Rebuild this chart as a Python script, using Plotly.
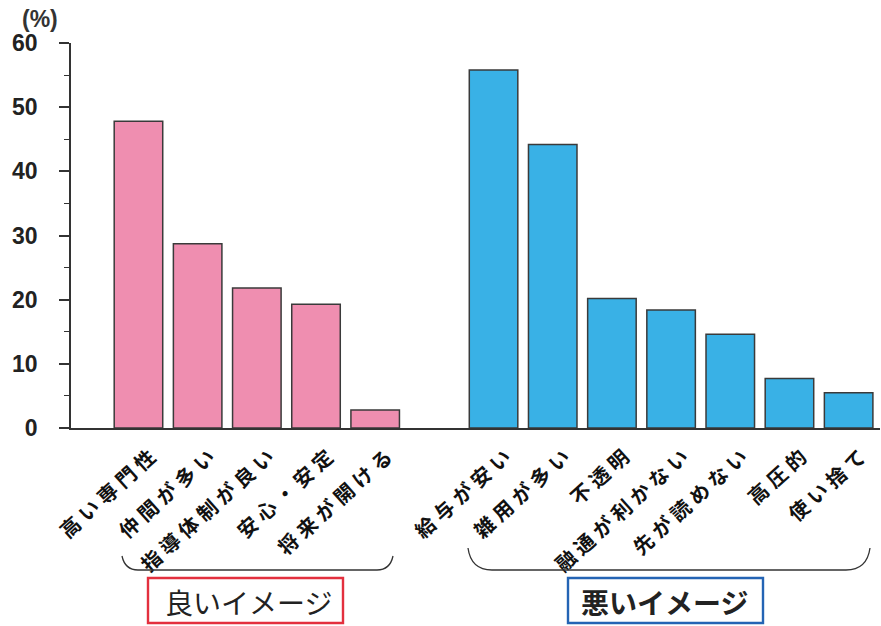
import plotly.graph_objects as go

# Survey: image of the job (% of respondents)
good_labels = ["高い専門性", "仲間が多い", "指導体制が良い", "安心・安定", "将来が開ける"]
good_values = [47.8, 28.7, 21.8, 19.3, 2.8]

bad_labels = ["給与が安い", "雑用が多い", "不透明", "融通が利かない", "先が読めない", "高圧的", "使い捨て"]
bad_values = [55.8, 44.2, 20.2, 18.4, 14.6, 7.7, 5.5]

y_ticks = [0, 10, 20, 30, 40, 50, 60]

GAP = " "  # empty slot between the two groups
categories = good_labels + [GAP] + bad_labels

# widen the character pitch of the slanted category labels
SPACER = "\u2005"
tick_text = [SPACER.join(c) if c != GAP else "" for c in categories]

W, H = 881, 626
ML, MR, MT, MB = 71, 1, 43, 198
PW, PH = W - ML - MR, H - MT - MB


def px(x):
    return (x - ML) / PW


def py(y):
    return (H - MB - y) / PH


fig = go.Figure()
fig.add_trace(go.Bar(
    x=good_labels, y=good_values, width=0.82,
    marker=dict(color="#EF8EB0", line=dict(color="#3a3a3a", width=1.5)),
))
fig.add_trace(go.Bar(
    x=bad_labels, y=bad_values, width=0.82,
    marker=dict(color="#39B1E6", line=dict(color="#3a3a3a", width=1.5)),
))

# curly group brackets under the tick labels
shapes = []
for x0, x1, ytop, ybot, r in [(122, 393, 556, 570, 16), (468, 870, 548, 570, 24)]:
    path = (
        f"M {px(x0)},{py(ytop)} "
        f"Q {px(x0 + 3)},{py(ybot)} {px(x0 + r)},{py(ybot)} "
        f"L {px(x1 - r)},{py(ybot)} "
        f"Q {px(x1 - 3)},{py(ybot)} {px(x1)},{py(ytop)}"
    )
    shapes.append(dict(type="path", xref="paper", yref="paper", path=path,
                       line=dict(color="#333333", width=1.3)))

# framed group captions
for x0, x1, col in [(148, 343, "#E3303E"), (568, 763, "#2464B4")]:
    shapes.append(dict(type="rect", xref="paper", yref="paper",
                       x0=px(x0), x1=px(x1), y0=py(623), y1=py(578),
                       line=dict(color=col, width=2.4), fillcolor="rgba(0,0,0,0)"))

annotations = [
    dict(text="良いイメージ", x=px(248), y=py(602), xref="paper", yref="paper",
         xanchor="center", yanchor="middle", showarrow=False,
         font=dict(family="Noto Sans CJK JP", size=28, color="#222222")),
    dict(text="悪いイメージ", x=px(664), y=py(602), xref="paper", yref="paper",
         xanchor="center", yanchor="middle", showarrow=False,
         font=dict(family="Noto Sans CJK JP", size=28, color="#222222", weight="bold")),
    dict(text="(%)", x=px(40), y=py(19), xref="paper", yref="paper",
         xanchor="center", yanchor="middle", showarrow=False,
         font=dict(family="Liberation Sans", size=23, color="#333333", weight="bold")),
]

fig.update_layout(
    width=W, height=H,
    margin=dict(l=ML, r=MR, t=MT, b=MB),
    paper_bgcolor="white", plot_bgcolor="white",
    barmode="overlay", showlegend=False,
    shapes=shapes, annotations=annotations,
    xaxis=dict(
        type="category", categoryorder="array", categoryarray=categories,
        tickvals=categories, ticktext=tick_text,
        range=[-1.14, 12.53],
        showline=True, linecolor="#333333", linewidth=1.6,
        ticks="", showgrid=False, zeroline=False,
        tickangle=-42,
        ticklabelshift=12, ticklabelstandoff=8,
        tickfont=dict(family="Noto Sans CJK JP", size=20, color="#111111", weight="bold"),
    ),
    yaxis=dict(
        range=[0, 60], tickvals=y_ticks,
        showline=True, linecolor="#333333", linewidth=1.6,
        ticks="outside", ticklen=10, tickwidth=1.6, tickcolor="#333333",
        minor=dict(dtick=5, ticks="outside", ticklen=5, tickwidth=1.4, tickcolor="#333333"),
        showgrid=False, zeroline=False,
        ticklabelstandoff=17,
        tickfont=dict(family="Liberation Sans", size=23, color="#222222", weight="bold"),
    ),
)

fig.write_html("out.html")
